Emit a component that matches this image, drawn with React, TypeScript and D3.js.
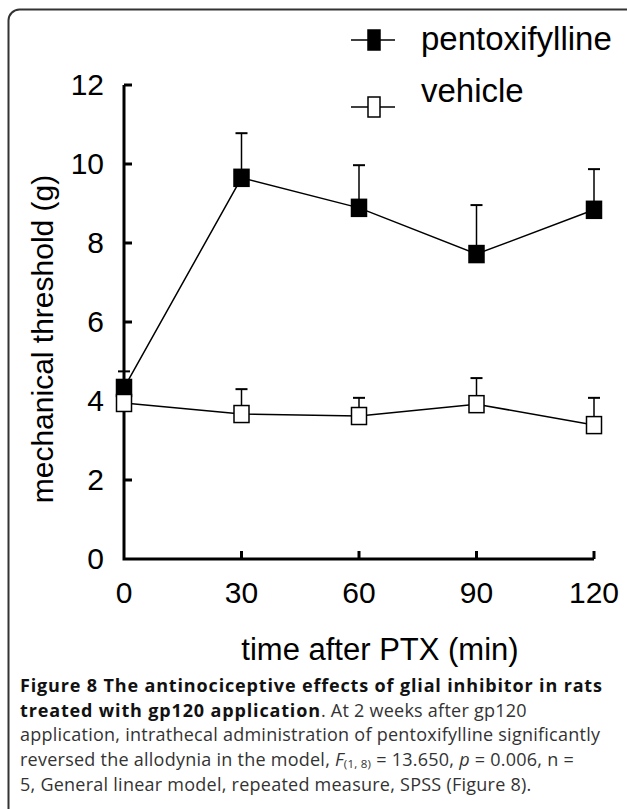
import { useEffect, useRef } from 'react';
import * as d3 from 'd3';

// time points (min) and group means / upper SEM
const timePoints = [0, 30, 60, 90, 120];
const pentoxMean = [4.33, 9.65, 8.89, 7.72, 8.84];
const pentoxErr = [0.42, 1.13, 1.08, 1.24, 1.03];
const vehicleMean = [3.95, 3.67, 3.62, 3.92, 3.39];
const vehicleErr = [0.3, 0.63, 0.46, 0.66, 0.69];

const xTicks = [0, 30, 60, 90, 120];
const yTicks = [0, 2, 4, 6, 8, 10, 12];

const seriesNames = ['pentoxifylline', 'vehicle'];

const App = () => {
  const svgRef = useRef<SVGSVGElement>(null);

  useEffect(() => {
    if (!svgRef.current) return;
    const svg = d3.select(svgRef.current);
    svg.selectAll('*').remove();

    const width = 627;
    const height = 809;
    svg.attr('width', width).attr('height', height);

    svg.append('rect').attr('width', width).attr('height', height).attr('fill', '#fff');

    // figure frame, open on right / bottom
    svg.append('rect')
      .attr('x', 8.5).attr('y', 9.5)
      .attr('width', 680).attr('height', 860)
      .attr('rx', 11)
      .attr('fill', 'none')
      .attr('stroke', '#333')
      .attr('stroke-width', 2);

    const x = d3.scaleLinear().domain([0, 120]).range([124, 594]);
    const y = d3.scaleLinear().domain([0, 12]).range([559, 85]);

    const chart = svg.append('g').attr('font-family', '"Liberation Sans", Arial, sans-serif');

    // axes
    chart.append('path')
      .attr('d', `M${x(0)},${y(12)}V${y(0)}H${x(120)}`)
      .attr('fill', 'none').attr('stroke', '#000').attr('stroke-width', 3);

    yTicks.forEach(t => {
      if (t > 0) {
        chart.append('line')
          .attr('x1', x(0)).attr('x2', x(0) + 8)
          .attr('y1', y(t)).attr('y2', y(t))
          .attr('stroke', '#000').attr('stroke-width', 3);
      }
      chart.append('text')
        .attr('x', 104).attr('y', y(t) + 10)
        .attr('text-anchor', 'end')
        .attr('font-size', 30)
        .text(t);
    });

    xTicks.forEach(t => {
      if (t > 0) {
        chart.append('line')
          .attr('x1', x(t)).attr('x2', x(t))
          .attr('y1', y(0)).attr('y2', y(0) - 8)
          .attr('stroke', '#000').attr('stroke-width', 3);
      }
      chart.append('text')
        .attr('x', x(t)).attr('y', 603)
        .attr('text-anchor', 'middle')
        .attr('font-size', 30)
        .text(t);
    });

    chart.append('text')
      .attr('x', 380).attr('y', 660)
      .attr('text-anchor', 'middle')
      .attr('font-size', 31)
      .text('time after PTX (min)');

    chart.append('text')
      .attr('transform', 'translate(53,339) rotate(-90)')
      .attr('text-anchor', 'middle')
      .attr('font-size', 30)
      .text('mechanical threshold (g)');

    const series = [
      { mean: pentoxMean, err: pentoxErr, fill: '#000' },
      { mean: vehicleMean, err: vehicleErr, fill: '#fff' },
    ];

    const line = d3.line<number>()
      .x((_, i) => x(timePoints[i]))
      .y(d => y(d));

    series.forEach(s => {
      chart.append('path')
        .attr('d', line(s.mean))
        .attr('fill', 'none').attr('stroke', '#000').attr('stroke-width', 1.5);
    });

    series.forEach(s => {
      s.mean.forEach((m, i) => {
        const cx = x(timePoints[i]);
        const top = y(m + s.err[i]);
        chart.append('line')
          .attr('x1', cx).attr('x2', cx).attr('y1', y(m)).attr('y2', top)
          .attr('stroke', '#000').attr('stroke-width', 1.5);
        chart.append('line')
          .attr('x1', cx - 6).attr('x2', cx + 6).attr('y1', top).attr('y2', top)
          .attr('stroke', '#000').attr('stroke-width', 2);
      });
    });

    const mw = 15, mh = 17;
    series.forEach(s => {
      s.mean.forEach((m, i) => {
        chart.append('rect')
          .attr('x', x(timePoints[i]) - mw / 2).attr('y', y(m) - mh / 2)
          .attr('width', mw).attr('height', mh)
          .attr('fill', s.fill).attr('stroke', '#000').attr('stroke-width', 1.5);
      });
    });

    // legend
    const legendY = [40, 107];
    const textY = [50, 102];
    seriesNames.forEach((name, i) => {
      const g = chart.append('g');
      g.append('line')
        .attr('x1', 351).attr('x2', 395)
        .attr('y1', legendY[i]).attr('y2', legendY[i])
        .attr('stroke', '#000').attr('stroke-width', 1.5);
      g.append('rect')
        .attr('x', 368).attr('y', legendY[i] - 10)
        .attr('width', 12).attr('height', 20)
        .attr('fill', series[i].fill).attr('stroke', '#000').attr('stroke-width', 1.5);
      g.append('text')
        .attr('x', 421).attr('y', textY[i])
        .attr('font-size', 33)
        .text(name);
    });

    // caption
    const cap = svg.append('g')
      .attr('font-family', '"Open Sans", "Noto Sans", sans-serif')
      .attr('font-size', 18)
      .attr('letter-spacing', 0.25)
      .attr('fill', '#333');
    const lh = 24.7;
    const base = 692;
    const l1 = cap.append('text').attr('x', 20).attr('y', base);
    l1.append('tspan').attr('font-weight', 'bold').attr('fill', '#111').attr('letter-spacing', 0.85)
      .text('Figure 8 The antinociceptive effects of glial inhibitor in rats');
    const l2 = cap.append('text').attr('x', 20).attr('y', base + lh);
    l2.append('tspan').attr('font-weight', 'bold').attr('fill', '#111').attr('letter-spacing', 0.85)
      .text('treated with gp120 application');
    l2.append('tspan').text('. At 2 weeks after gp120');
    cap.append('text').attr('x', 20).attr('y', base + lh * 2)
      .text('application, intrathecal administration of pentoxifylline significantly');
    const l4 = cap.append('text').attr('x', 20).attr('y', base + lh * 3);
    l4.append('tspan').text('reversed the allodynia in the model, ');
    l4.append('tspan').attr('font-style', 'italic').text('F');
    l4.append('tspan').attr('font-size', 11.5).attr('dy', 2).text('(1, 8)');
    l4.append('tspan').attr('dy', -2).text(' = 13.650, ');
    l4.append('tspan').attr('font-style', 'italic').text('p');
    l4.append('tspan').text(' = 0.006, n =');
    cap.append('text').attr('x', 20).attr('y', base + lh * 4)
      .text('5, General linear model, repeated measure, SPSS (Figure 8).');
  }, []);

  return (
    <svg ref={svgRef} style={{ position: 'absolute', left: 0, top: 0 }}></svg>
  );
};

export default App;
